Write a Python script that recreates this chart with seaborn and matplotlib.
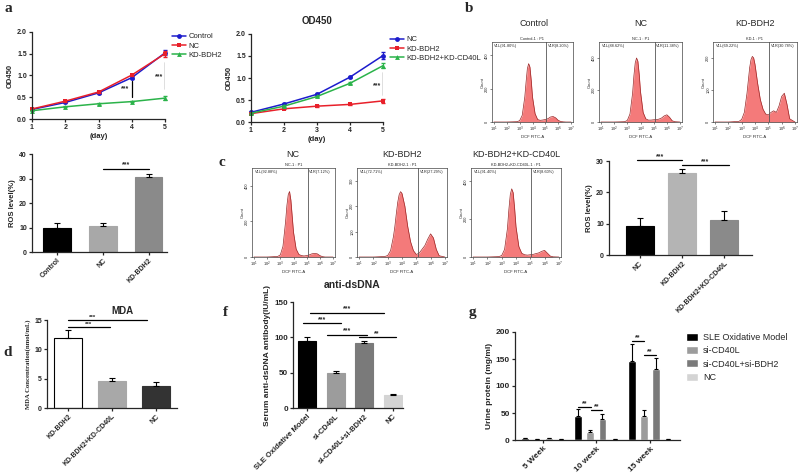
import numpy as np
import pandas as pd
import seaborn as sns
import matplotlib
matplotlib.use('Agg')
import matplotlib.pyplot as plt
from matplotlib import transforms

W, H = 800, 473

# ---- panel a : OD450 growth curves ----
DAYS = [1, 2, 3, 4, 5]
A1_SERIES = ['Control', 'NC', 'KD-BDH2']
A1_VALUES = [[0.22, 0.38, 0.60, 0.95, 1.52],
             [0.23, 0.41, 0.62, 1.01, 1.50],
             [0.19, 0.28, 0.35, 0.40, 0.48]]
A1_ERRORS = [[0.02, 0.02, 0.02, 0.03, 0.06],
             [0.02, 0.02, 0.02, 0.03, 0.07],
             [0.01, 0.01, 0.02, 0.02, 0.04]]
A2_SERIES = ['NC', 'KD-BDH2', 'KD-BDH2+KD-CD40L']
A2_VALUES = [[0.22, 0.41, 0.63, 1.02, 1.51],
             [0.19, 0.30, 0.36, 0.40, 0.48],
             [0.20, 0.36, 0.58, 0.88, 1.28]]
A2_ERRORS = [[0.02, 0.02, 0.02, 0.02, 0.08],
             [0.01, 0.01, 0.02, 0.02, 0.04],
             [0.01, 0.02, 0.02, 0.02, 0.05]]
LINE_COLORS = ['#1c1ccc', '#e8202a', '#2bb34a']
LINE_MARKERS = ['o', 's', '^']

# ROS bars (panel a, bottom)
A3_CATS = ['Control', 'NC', 'KD-BDH2']
A3_VALS = [9.8, 10.5, 30.5]
A3_ERRS = [2.0, 1.5, 1.5]

# ---- flow cytometry histograms (panels b and c) ----
FLOW_LOG = [1.0, 2.0, 2.8, 3.0, 3.2, 3.4, 3.5, 3.6, 3.7, 3.8, 3.9, 4.0, 4.2,
            4.4, 4.6, 4.8, 5.0, 5.2, 5.4, 5.6, 5.8, 6.0, 6.2, 6.4, 6.6, 7.0]
B_CONTROL = [0, 0, 2, 8, 40, 150, 240, 320, 350, 330, 250, 150, 50, 15, 10, 12,
             15, 20, 30, 33, 25, 10, 3, 1, 0, 0]
B_NC = [0, 0, 2, 10, 50, 180, 290, 370, 400, 380, 300, 190, 60, 20, 12, 12,
        14, 15, 18, 25, 38, 45, 30, 8, 2, 0]
B_KD = [0, 0, 2, 8, 30, 90, 130, 170, 195, 205, 200, 180, 120, 70, 40, 25,
        22, 30, 35, 30, 50, 80, 90, 55, 10, 0]
C_NC = [0, 0, 3, 12, 60, 200, 290, 350, 368, 320, 230, 140, 45, 15, 8, 6,
        8, 12, 18, 20, 18, 8, 2, 0, 0, 0]
C_KD = [0, 0, 2, 6, 25, 80, 120, 170, 215, 245, 257, 250, 200, 120, 60, 25,
        10, 15, 30, 45, 70, 91, 75, 30, 5, 0]
C_KDCD = [0, 0, 2, 8, 40, 150, 250, 330, 360, 340, 260, 160, 55, 20, 12, 10,
          12, 14, 18, 22, 30, 35, 20, 5, 1, 0]

# ROS bars (panel c, right)
C4_CATS = ['NC', 'KD-BDH2', 'KD-BDH2+KD-CD40L']
C4_VALS = [9.3, 26.3, 11.3]
C4_ERRS = [2.5, 1.0, 2.7]

# ---- panel d : MDA ----
D_CATS = ['KD-BDH2', 'KD-BDH2+KD-CD40L', 'NC']
D_VALS = [12.0, 4.6, 3.7]
D_ERRS = [1.3, 0.5, 0.7]

# ---- panel f : anti-dsDNA ----
F_CATS = ['SLE Oxidative Model', 'si-CD40L', 'si-CD40L+si-BDH2', 'NC']
F_VALS = [95, 50, 92, 18]
F_ERRS = [5, 3, 3, 2]

# ---- panel g : urine protein ----
G_WEEKS = ['5 Week', '10 week', '15 week']
G_GROUPS = ['SLE Oxidative Model', 'si-CD40L', 'si-CD40L+si-BDH2', 'NC']
G_VALS = {'SLE Oxidative Model': [3, 45, 147],
          'si-CD40L': [2, 15, 45],
          'si-CD40L+si-BDH2': [3, 38, 132],
          'NC': [1, 1, 1]}
G_ERRS = {'SLE Oxidative Model': [1, 12, 30],
          'si-CD40L': [0.5, 4, 11],
          'si-CD40L+si-BDH2': [1, 10, 20],
          'NC': [0.3, 0.3, 0.3]}

BAR3_COLORS = ['#000000', '#a8a8a8', '#8a8a8a']
F_COLORS = ['#000000', '#9c9c9c', '#7a7a7a', '#d4d4d4']

sns.set_style('ticks')
plt.rcParams['font.family'] = ['Liberation Sans', 'DejaVu Sans']
plt.rcParams['axes.linewidth'] = 0.9
plt.rcParams['axes.labelweight'] = 'bold'

fig = plt.figure(figsize=(W / 100, H / 100), dpi=100)


def px_axes(x0, y0, x1, y1):
    return fig.add_axes([x0 / W, 1 - y1 / H, (x1 - x0) / W, (y1 - y0) / H])


def prism(ax, fs=5):
    sns.despine(ax=ax)
    ax.tick_params(labelsize=fs, length=2.5, width=0.9, pad=1.2)
    for lab in ax.get_xticklabels() + ax.get_yticklabels():
        lab.set_fontweight('bold')


def sig(ax, x1, x2, y, txt, fs=5, tx=None):
    ax.plot([x1, x2], [y, y], color='k', lw=0.9, clip_on=False)
    tx = (x1 + x2) / 2 if tx is None else tx
    ax.text(tx, y, txt, ha='center', va='bottom', fontsize=fs,
            fontweight='bold', clip_on=False)


def fig_text(x, y, s, **kw):
    fig.text(x / W, 1 - y / H, s, ha='center', va='center', **kw)


def upper_err(ax, xs, vals, errs, cap=2.0):
    ax.errorbar(xs, vals, yerr=[np.zeros(len(vals)), errs], fmt='none',
                ecolor='k', elinewidth=0.8, capsize=cap, capthick=0.8,
                clip_on=False, zorder=3)


def line_panel(ax, names, values, errors, legend_xy):
    for name, vals, errs, col, mk in zip(names, values, errors, LINE_COLORS, LINE_MARKERS):
        sns.lineplot(x=DAYS, y=vals, color=col, marker=mk, markersize=3.5,
                     markeredgewidth=0, lw=1.1, label=name, ax=ax, clip_on=False)
        ax.errorbar(DAYS, vals, yerr=errs, fmt='none', ecolor=col,
                    elinewidth=0.8, capsize=1.5, clip_on=False)
    ax.set_xlim(1, 5)
    ax.set_ylim(0, 2.0)
    ax.set_xticks(DAYS)
    ax.set_yticks([0, 0.5, 1.0, 1.5, 2.0])
    ax.set_ylabel('OD450', fontsize=5.5, labelpad=2)
    ax.set_xlabel('(day)', fontsize=5.5, labelpad=1)
    prism(ax)
    ax.legend(loc='upper left', bbox_to_anchor=(legend_xy[0] / W, 1 - legend_xy[1] / H),
              bbox_transform=fig.transFigure, frameon=False, fontsize=5.5,
              handlelength=1.8, labelspacing=0.25, borderaxespad=0,
              handletextpad=0.4, borderpad=0)


def bar_panel(ax, cats, vals, errs, colors, width, xlim, ylim, yticks, fs=5):
    sns.barplot(x=cats, y=vals, hue=cats, palette=colors, legend=False,
                errorbar=None, width=width, ax=ax, saturation=1)
    for p, c in zip(ax.patches, colors):
        p.set_edgecolor('k' if c == '#ffffff' else c)
        p.set_linewidth(0.8)
    upper_err(ax, range(len(cats)), vals, errs)
    ax.set_xlim(*xlim)
    ax.set_ylim(*ylim)
    ax.set_yticks(yticks)
    ax.set_xticks(range(len(cats)))
    ax.set_xticklabels(cats, rotation=45, ha='right', rotation_mode='anchor')
    prism(ax, fs)


def flow_hist(ax, counts, ymax, yticks, top_label, left_pct, right_pct, gate=5.07):
    xs = np.power(10.0, FLOW_LOG)
    ax.fill_between(xs, counts, color='#f47a7a', lw=0)
    ax.plot(xs, counts, color='#9a2525', lw=0.5)
    ax.set_xscale('log')
    ax.set_xlim(10 ** 0.85, 10 ** 7.15)
    ax.set_ylim(0, ymax)
    ax.axvline(10 ** gate, color='#555555', lw=0.6)
    ax.set_xticks([10 ** k for k in range(1, 8)])
    ax.set_xticklabels(['10$^{%d}$' % k for k in range(1, 8)])
    ax.xaxis.set_minor_locator(matplotlib.ticker.NullLocator())
    ax.set_yticks(yticks)
    ax.set_yticklabels([str(t) for t in yticks], rotation=90, va='center')
    ax.tick_params(labelsize=2.8, length=1.2, width=0.4, pad=0.8)
    for s in ax.spines.values():
        s.set_linewidth(0.5)
        s.set_color('#444444')
    ax.set_xlabel('DCF FITC-A', fontsize=3, labelpad=0.5, fontweight='normal')
    ax.set_ylabel('Count', fontsize=3, labelpad=0.5, fontweight='normal')
    ax.set_title(top_label, fontsize=2.8, pad=1.5)
    ax.text(0.03, 0.98, left_pct, transform=ax.transAxes, fontsize=2.8, va='top')
    tr = transforms.blended_transform_factory(ax.transData, ax.transAxes)
    ax.text(10 ** (gate + 0.1), 0.98, right_pct, transform=tr, fontsize=2.8, va='top')


# ---------- panel a ----------
ax = px_axes(32, 32, 165, 119)
line_panel(ax, A1_SERIES, A1_VALUES, A1_ERRORS, (172, 33))
ax.plot([4, 4], [0.51, 0.88], color='k', lw=0.9)
ax.text(3.8, 0.70, '***', ha='center', va='center', fontsize=5, fontweight='bold')
ax.plot([5, 5], [0.68, 1.31], color='k', lw=0.9)
ax.text(4.83, 0.97, '***', ha='center', va='center', fontsize=5, fontweight='bold')

ax = px_axes(251, 34, 383, 122)
line_panel(ax, A2_SERIES, A2_VALUES, A2_ERRORS, (390, 36))
ax.plot([5, 5], [0.62, 1.13], color='k', lw=0.9)
ax.text(4.83, 0.83, '***', ha='center', va='center', fontsize=5, fontweight='bold')
fig_text(317, 21, 'OD450', fontsize=7, fontweight='bold')

ax = px_axes(32, 154, 167, 252)
bar_panel(ax, A3_CATS, A3_VALS, A3_ERRS, BAR3_COLORS, 0.6, (-0.55, 2.4), (0, 40),
          [0, 10, 20, 30, 40])
ax.set_ylabel('ROS level(%)', fontsize=5.5, labelpad=2)
sig(ax, 1, 2, 34, '***')

# ---------- panel b ----------
fig_text(534, 23, 'Control', fontsize=6.5)
fig_text(641, 23, 'NC', fontsize=6.5)
fig_text(755, 23, 'KD-BDH2', fontsize=6.5)
flow_hist(px_axes(492, 42, 573, 122), B_CONTROL, 480, [0, 200, 400],
          'Control-1 : P1', 'V1L(91.80%)', 'V1R(8.20%)')
flow_hist(px_axes(599, 42, 682, 122), B_NC, 500, [0, 200, 400],
          'NC-1 : P1', 'V1L(88.62%)', 'V1R(11.38%)')
flow_hist(px_axes(713, 42, 797, 122), B_KD, 250, [0, 100, 200],
          'KD-1 : P1', 'V1L(69.22%)', 'V1R(30.78%)')

# ---------- panel c ----------
fig_text(293, 154, 'NC', fontsize=6.5)
fig_text(402, 154, 'KD-BDH2', fontsize=6.5)
fig_text(516, 154, 'KD-BDH2+KD-CD40L', fontsize=6.5)
flow_hist(px_axes(252, 168, 335, 257), C_NC, 500, [0, 200, 400],
          'NC-1 : P1', 'V1L(92.88%)', 'V1R(7.12%)')
flow_hist(px_axes(357, 168, 447, 257), C_KD, 350, [0, 100, 200, 300],
          'KD-BDH2-1 : P1', 'V1L(72.71%)', 'V1R(27.29%)', gate=5.15)
flow_hist(px_axes(471, 168, 561, 257), C_KDCD, 470, [0, 200, 400],
          'KD-BDH2+KD-CD40L-1 : P1', 'V1L(91.40%)', 'V1R(8.60%)')

ax = px_axes(609, 161, 752, 255)
bar_panel(ax, C4_CATS, C4_VALS, C4_ERRS, BAR3_COLORS[:1] + ['#b4b4b4', '#8a8a8a'],
          0.66, (-0.72, 2.65), (0, 30), [0, 10, 20, 30])
ax.set_ylabel('ROS level(%)', fontsize=5.5, labelpad=2)
sig(ax, -0.05, 1.0, 30.3, '***')
sig(ax, 1.0, 2.1, 28.8, '***')

# ---------- panel d ----------
ax = px_axes(47, 320, 177, 408)
bar_panel(ax, D_CATS, D_VALS, D_ERRS, ['#ffffff', '#a8a8a8', '#333333'], 0.65,
          (-0.48, 2.48), (0, 15), [0, 5, 10, 15])
ax.set_ylabel('MDA Concentration(nmol/mL)', fontsize=4.8, labelpad=2,
              fontfamily='Liberation Serif')
sig(ax, 0, 1.8, 15.0, '***', fs=4.5, tx=0.55)
sig(ax, 0, 0.95, 13.8, '***', fs=4.5)
fig_text(122, 311, 'MDA', fontsize=7, fontweight='bold')

# ---------- panel f ----------
ax = px_axes(293, 302, 403, 408)
bar_panel(ax, F_CATS, F_VALS, F_ERRS, F_COLORS, 0.63, (-0.49, 3.35), (0, 150),
          [0, 50, 100, 150], fs=5.8)
for lab in ax.get_xticklabels():
    lab.set_fontsize(5.5)
ax.set_ylabel('Serum anti-dsDNA antibody(IU/mL)', fontsize=6, labelpad=2)
sig(ax, 0.1, 2.7, 135, '***')
sig(ax, -0.15, 1.2, 120, '***')
sig(ax, 0.7, 2.1, 104, '***')
sig(ax, 1.8, 3.1, 100, '**')
fig_text(352, 285, 'anti-dsDNA', fontsize=7.5, fontweight='bold')

# ---------- panel g ----------
ax = px_axes(515, 332, 680, 440)
g_df = pd.DataFrame([(w, g, G_VALS[g][i]) for g in G_GROUPS for i, w in enumerate(G_WEEKS)],
                    columns=['week', 'group', 'value'])
sns.barplot(data=g_df, x='week', y='value', hue='group', hue_order=G_GROUPS,
            order=G_WEEKS, palette=F_COLORS, errorbar=None, width=0.9, gap=0.35,
            saturation=1, ax=ax)
for cont, g in zip(ax.containers, G_GROUPS):
    xs = [b.get_x() + b.get_width() / 2 for b in cont]
    upper_err(ax, xs, G_VALS[g], G_ERRS[g], cap=1.5)
ax.set_xlim(-0.52, 2.56)
ax.set_ylim(0, 200)
ax.set_yticks([0, 50, 100, 150, 200])
ax.set_xticks(range(3))
ax.set_xticklabels(G_WEEKS, rotation=45, ha='right', rotation_mode='anchor')
ax.set_xlabel('')
ax.set_ylabel('Urine protein (mg/ml)', fontsize=6, labelpad=2)
prism(ax, 6)
sig(ax, 0.66, 0.89, 61, '**')
sig(ax, 0.89, 1.11, 55, '**')
sig(ax, 1.66, 1.89, 183, '**')
sig(ax, 1.89, 2.11, 157, '**')
ax.legend(loc='upper left', bbox_to_anchor=(686 / W, 1 - 333 / H),
          bbox_transform=fig.transFigure, frameon=False, fontsize=6.5,
          handlelength=1.3, handleheight=1.0, labelspacing=0.45,
          borderaxespad=0, borderpad=0, handletextpad=0.6)

# ---------- panel letters ----------
for letter, x, y in [('a', 8, 9), ('b', 469, 9), ('c', 222, 163),
                     ('d', 8, 352), ('f', 225, 312), ('g', 472, 312)]:
    fig_text(x, y, letter, fontsize=11, fontweight='bold', family='Liberation Serif')

fig.savefig('out.png', dpi=100)
